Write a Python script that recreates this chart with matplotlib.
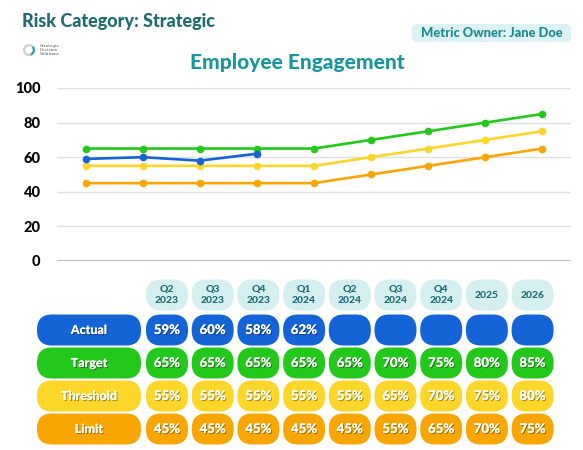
import matplotlib
matplotlib.use("Agg")
import matplotlib.pyplot as plt
import matplotlib.patheffects as pe
from matplotlib.patches import FancyBboxPatch, Wedge

plt.rcParams["font.family"] = ["Lato", "DejaVu Sans"]

# chart data (as plotted)
periods = ["Q2\n2023", "Q3\n2023", "Q4\n2023", "Q1\n2024", "Q2\n2024",
           "Q3\n2024", "Q4\n2024", "2025", "2026"]
actual = [59, 60, 58, 62]
target = [65, 65, 65, 65, 65, 70, 75, 80, 85]
threshold = [55, 55, 55, 55, 55, 60, 65, 70, 75]
limit = [45, 45, 45, 45, 45, 50, 55, 60, 65]

# table text (as printed)
row_names = ["Actual", "Target", "Threshold", "Limit"]
tbl_actual = ["59%", "60%", "58%", "62%", "", "", "", "", ""]
tbl_target = ["65%", "65%", "65%", "65%", "65%", "70%", "75%", "80%", "85%"]
tbl_threshold = ["55%", "55%", "55%", "55%", "55%", "65%", "70%", "75%", "80%"]
tbl_limit = ["45%", "45%", "45%", "45%", "45%", "55%", "65%", "70%", "75%"]
yticks = [0, 20, 40, 60, 80, 100]

BLUE, GREEN, YELLOW, ORANGE = "#1464d8", "#22c81a", "#fdd62a", "#f9a602"
TEAL_DARK, TEAL = "#1f6b74", "#1796a0"
W, H = 583, 450
HEAVY = "black"

fig = plt.figure(figsize=(W / 100, H / 100), dpi=100)

# ---- line chart
ax = fig.add_axes([57 / W, 1 - 261 / H, (571 - 57) / W, (261 - 88) / H])
x = list(range(len(periods)))
for vals, c in [(limit, ORANGE), (threshold, YELLOW), (target, GREEN), (actual, BLUE)]:
    ax.plot(x[:len(vals)], vals, color=c, lw=1.9, marker="o", ms=4.5, zorder=3)
ax.set_xlim(-0.5, 8.5)
ax.set_ylim(0, 100)
ax.set_yticks(yticks)
ax.set_xticks([])
ax.grid(axis="y", color="#e0e0e0", lw=1.0)
ax.axhline(0, color="#b0b0b0", lw=1.2)
ax.tick_params(axis="y", length=0, pad=12, labelsize=10.5)
for t in ax.get_yticklabels():
    t.set_fontweight(HEAVY)
for s in ax.spines.values():
    s.set_visible(False)
ax.set_axisbelow(True)

# ---- overlay in pixel coordinates
ov = fig.add_axes([0, 0, 1, 1])
ov.set_xlim(0, W)
ov.set_ylim(H, 0)
ov.axis("off")
ov.patch.set_alpha(0)

ov.text(22, 22, "Risk Category: Strategic", color=TEAL_DARK, fontsize=13,
        fontweight=HEAVY, ha="left", va="center")
ov.text(297, 63, "Employee Engagement", color=TEAL, fontsize=15,
        fontweight=HEAVY, ha="center", va="center")
ov.add_patch(FancyBboxPatch((412, 24), 159, 18, boxstyle="round,pad=0,rounding_size=5",
                            fc="#ddf2f4", ec="none"))
ov.text(491.5, 33, "Metric Owner: Jane Doe", color="#1a8a90", fontsize=9.3,
        fontweight=HEAVY, ha="center", va="center")

# logo
ov.add_patch(Wedge((29, 50), 6, 0, 360, width=2.2, fc="#cfcfcf", ec="none"))
ov.add_patch(Wedge((29, 50), 6, -40, 70, width=2.2, fc="#2aa6ae", ec="none"))
ov.text(40, 50, "Strategic\nDecision\nSolutions", fontsize=3, color="#555555",
        ha="left", va="center", linespacing=0.9, family="DejaVu Serif")


def pill(cx, cy, w, h, fc):
    ov.add_patch(FancyBboxPatch((cx - w / 2, cy - h / 2), w, h,
                                boxstyle=f"round,pad=0,rounding_size={h / 2 - 0.5}",
                                fc=fc, ec="none"))


shadow = [pe.withSimplePatchShadow(offset=(0.8, -0.8), shadow_rgbFace="#000000", alpha=0.35),
          pe.Normal()]
col_x = [167 + 45.7 * i for i in range(len(periods))]
row_y = [330, 363, 396, 429]
pw, ph = 42, 31

for cx, lab in zip(col_x, periods):
    pill(cx, 295, pw, ph, "#d5eff0")
    ov.text(cx, 295, lab, color=TEAL_DARK, fontsize=7.5, fontweight=HEAVY,
            ha="center", va="center", linespacing=1.3)

rows = [tbl_actual, tbl_target, tbl_threshold, tbl_limit]
colors = [BLUE, GREEN, YELLOW, ORANGE]
for name, vals, c, cy in zip(row_names, rows, colors, row_y):
    pill(89, cy, 104, ph, c)
    ov.text(89, cy, name, color="white", fontsize=9, fontweight=HEAVY,
            ha="center", va="center", path_effects=shadow)
    for cx, v in zip(col_x, vals):
        pill(cx, cy, pw, ph, c)
        if v:
            ov.text(cx, cy, v, color="white", fontsize=9.5, fontweight=HEAVY,
                    ha="center", va="center", path_effects=shadow)

fig.savefig("out.png", dpi=100)
